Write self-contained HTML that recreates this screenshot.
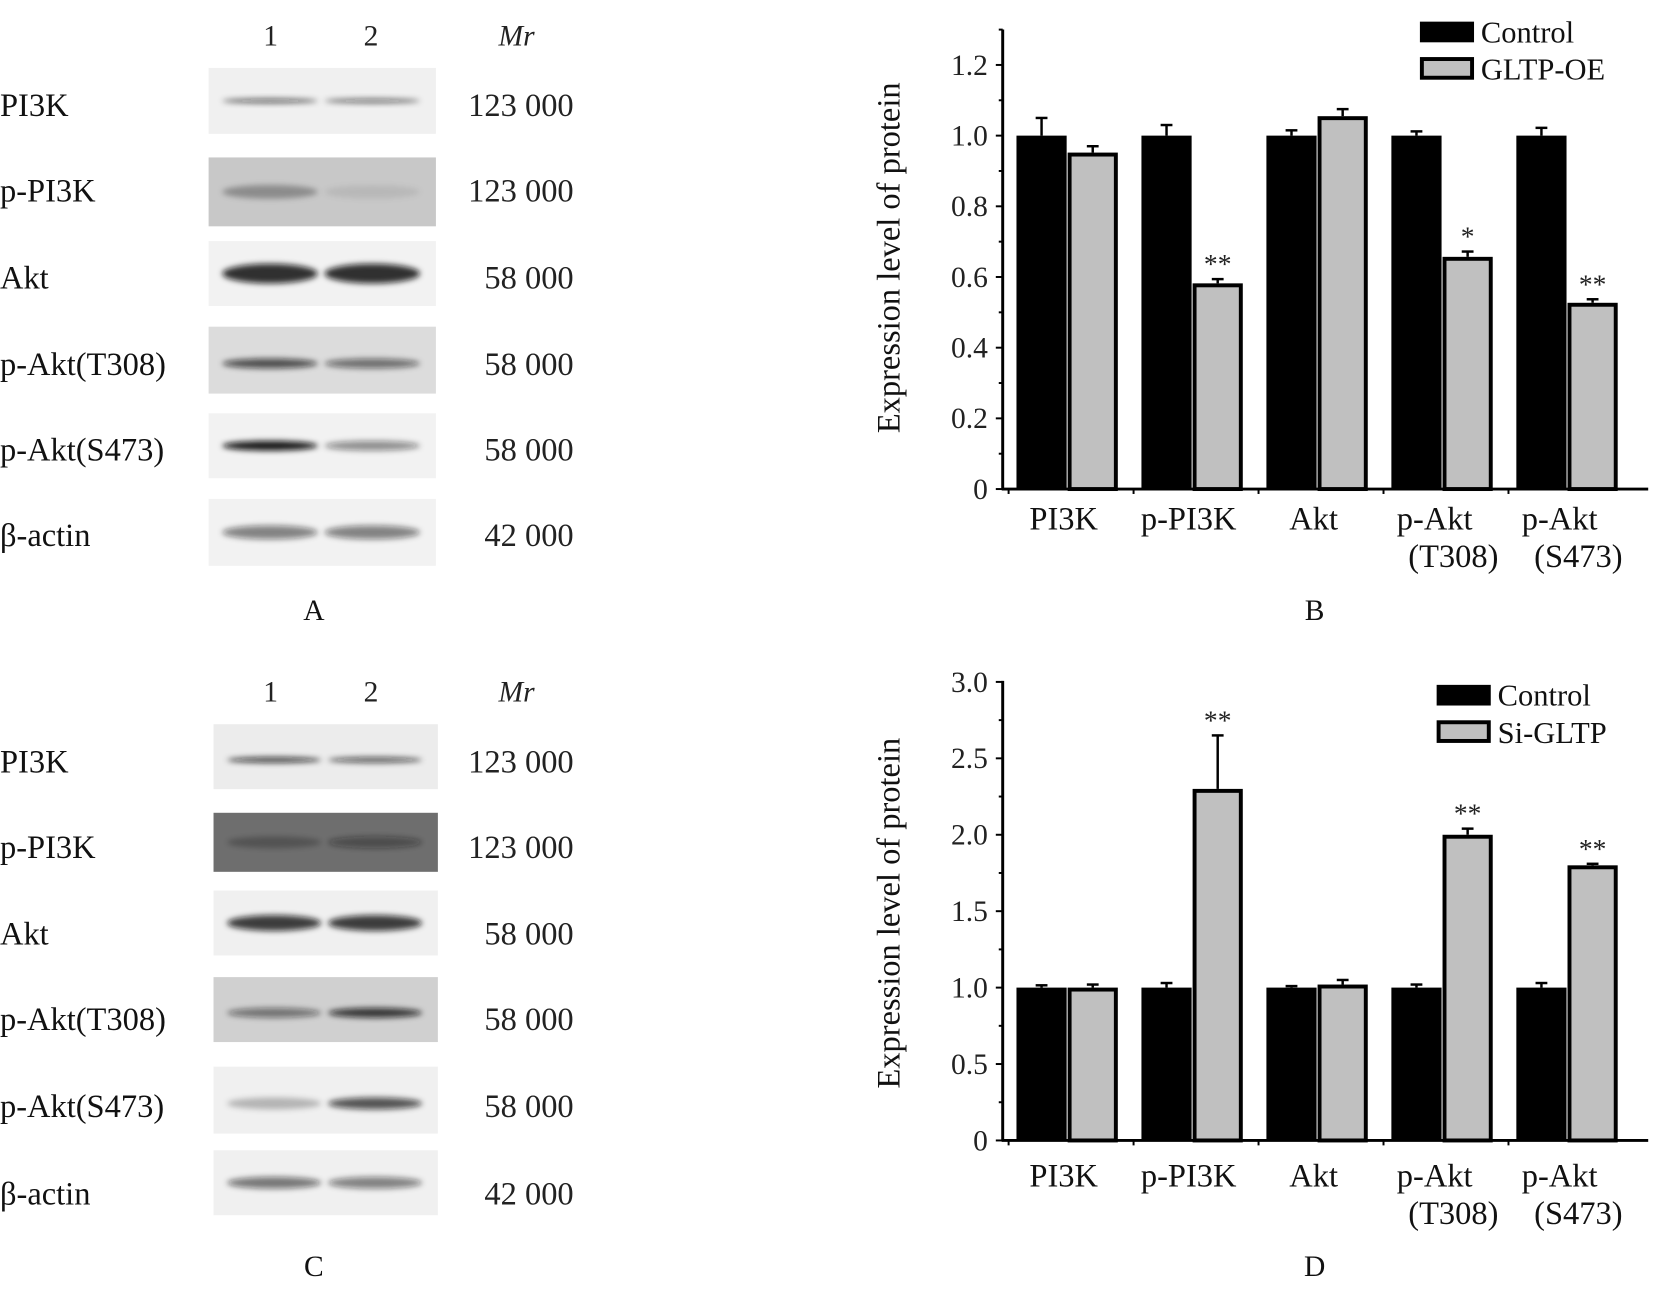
<!DOCTYPE html>
<html><head><meta charset="utf-8">
<style>
html,body{margin:0;padding:0;background:#fff;}
svg{display:block;font-family:"Liberation Serif","DejaVu Serif",serif;}
</style></head>
<body>
<svg id="fig" width="1678" height="1293" viewBox="0 0 1678 1293" xmlns="http://www.w3.org/2000/svg">
<defs>
<filter id="blur3" x="-20%" y="-100%" width="140%" height="300%"><feGaussianBlur stdDeviation="3"/></filter>
</defs>
<g id="root" transform="scale(0.984)"></g>
</svg>
<script>
// ---- Chart data ----
const categories = ["PI3K","p-PI3K","Akt","p-Akt","p-Akt"];
const categories2 = ["","","","(T308)","(S473)"];
const bControl = [1.0,1.0,1.0,1.0,1.0];
const bControlErr = [0.05,0.03,0.015,0.012,0.022];
const bOE = [0.952,0.582,1.055,0.657,0.527];
const bOEErr = [0.018,0.012,0.02,0.015,0.01];
const bStars = ["","**","","*","**"];
const bTicks = ["0","0.2","0.4","0.6","0.8","1.0","1.2"];
const dControl = [1.0,1.0,1.0,1.0,1.0];
const dControlErr = [0.015,0.03,0.01,0.02,0.03];
const dSi = [1.0,2.3,1.02,2.0,1.8];
const dSiErr = [0.02,0.35,0.03,0.04,0.01];
const dStars = ["","**","","**","**"];
const dTicks = ["0","0.5","1.0","1.5","2.0","2.5","3.0"];
const blotLabels = ["PI3K","p-PI3K","Akt","p-Akt(T308)","p-Akt(S473)","β-actin"];
const blotMW = ["123 000","123 000","58 000","58 000","58 000","42 000"];

const NS="http://www.w3.org/2000/svg";
const root=document.getElementById('root');
function mk(tag,attrs,parent,text){const e=document.createElementNS(NS,tag);for(const k in attrs)e.setAttribute(k,attrs[k]);if(text!==undefined)e.textContent=text;(parent||root).appendChild(e);return e;}

function chart(cfg){
  const g=mk('g',{});
  
  
  const ax=1019, x1=1675, y0=cfg.y0, yTop=cfg.yTop, vmax=cfg.vmax;
  const ys=v=>y0-(v/vmax)*(y0-cfg.yMaxPix);
  const gw=127, bw=51, start=1033;
  for(let i=0;i<categories.length;i++){
    const xc=start+i*gw;
    const yc=ys(cfg.ctrl[i]);
    const e1=mk('line',{x1:xc+bw/2,x2:xc+bw/2,y1:yc,y2:ys(cfg.ctrl[i]+cfg.ctrlErr[i]),stroke:'#000','stroke-width':2.5},g);
    
    
    const c1=mk('line',{x1:xc+bw/2-6,x2:xc+bw/2+6,y1:ys(cfg.ctrl[i]+cfg.ctrlErr[i]),y2:ys(cfg.ctrl[i]+cfg.ctrlErr[i]),stroke:'#000','stroke-width':2.5},g);
    
    
    const r1=mk('rect',{x:xc,y:yc,width:bw,height:y0-yc,fill:'#000'},g);
    
    
    const xg=xc+bw+1;
    const yg=ys(cfg.trt[i]);
    const yge=ys(cfg.trt[i]+cfg.trtErr[i]);
    const e2=mk('line',{x1:xg+bw/2,x2:xg+bw/2,y1:yg,y2:yge,stroke:'#000','stroke-width':2.5},g);
    
    
    const c2=mk('line',{x1:xg+bw/2-6,x2:xg+bw/2+6,y1:yge,y2:yge,stroke:'#000','stroke-width':2.5},g);
    
    
    const r2=mk('rect',{x:xg+2,y:yg+2,width:bw-4,height:y0-yg-2,fill:'#c0c0c0',stroke:'#000','stroke-width':4},g);
    
    
    if(cfg.stars[i]){
      const s=mk('text',{x:xg+bw/2,y:yge-6,'font-size':28,'text-anchor':'middle',fill:'#222'},g,cfg.stars[i]);
      
      
    }
    const l=mk('text',{x:xc+bw+(i>=3?-7:-3),y:y0+41+cfg.labOff,'font-size':33,'text-anchor':'middle',fill:'#111'},g,categories[i]);
    
    
    if(categories2[i]){
      const l2=mk('text',{x:xc+bw+12,y:y0+79+cfg.labOff,'font-size':33,'text-anchor':'middle',fill:'#111'},g,categories2[i]);
      
      
    }
    const tk=mk('line',{x1:xc-8,x2:xc-8,y1:y0,y2:y0+5,stroke:'#000','stroke-width':2},g);
    
    
  }
  const ya=mk('line',{x1:ax,x2:ax,y1:yTop,y2:y0+1,stroke:'#000','stroke-width':3},g);
  
  
  const xa=mk('line',{x1:ax-1,x2:x1,y1:y0,y2:y0,stroke:'#000','stroke-width':3},g);
  
  
  const step=vmax/(cfg.ticks.length-1);
  for(let i=0;i<cfg.ticks.length;i++){
    const y=ys(i*step);
    const t=mk('line',{x1:ax-7,x2:ax,y1:y,y2:y,stroke:'#000','stroke-width':2},g);
    
    
    const ym=ys((i+0.5)*step);
    if(ym>=yTop){
      const m=mk('line',{x1:ax-4,x2:ax,y1:ym,y2:ym,stroke:'#000','stroke-width':2},g);
      
      
    }
    const tl=mk('text',{x:ax-15,y:y+10,'font-size':30,'text-anchor':'end',fill:'#222'},g,cfg.ticks[i]);
    
    
  }
  const yt=mk('text',{x:0,y:0,'font-size':33,'text-anchor':'middle',fill:'#111',transform:`translate(914,${cfg.titleY}) rotate(-90)`},g,'Expression level of protein');
  
  
  const lg=mk('g',{},g);
  
  
  const lr1=mk('rect',{x:cfg.legX,y:cfg.legY,width:55,height:21,fill:'#000'},lg);
  
  
  const lt1=mk('text',{x:cfg.legX+62,y:cfg.legY+21,'font-size':31,fill:'#111'},lg,'Control');
  
  
  const lr2=mk('rect',{x:cfg.legX+2,y:cfg.legY+38,width:51,height:19,fill:'#c0c0c0',stroke:'#000','stroke-width':4},lg);
  
  
  const lt2=mk('text',{x:cfg.legX+62,y:cfg.legY+59,'font-size':31,fill:'#111'},lg,cfg.trtName);
  
  
  const pl=mk('text',{x:1336,y:cfg.panelY,'font-size':30,'text-anchor':'middle',fill:'#111'},g,cfg.panel);
  
  
}
chart({name:'chart-b',y0:497,yTop:30,vmax:1.2,yMaxPix:66,ctrl:bControl,ctrlErr:bControlErr,trt:bOE,trtErr:bOEErr,stars:bStars,ticks:bTicks,titleY:262,legX:1443,legY:22,trtName:'GLTP-OE',panel:'B',panelY:630,labOff:0});
chart({name:'chart-d',y0:1159,yTop:692,vmax:3.0,yMaxPix:693,ctrl:dControl,ctrlErr:dControlErr,trt:dSi,trtErr:dSiErr,stars:dStars,ticks:dTicks,titleY:928,legX:1460,legY:696,trtName:'Si-GLTP',panel:'D',panelY:1297,labOff:6});

// ---- Blots ----
const blotA={tops:[69,160,245,332,420,507],heights:[67,70,66,68,66,68],bx:212,bw:231,
  bg:['#f0f0f0','#c8c8c8','#f2f2f2','#dcdcdc','#f2f2f2','#f2f2f2'],
  l1:[0.6,0.3,0.85,0.7,0.95,0.5],l2:[0.55,0.08,0.85,0.55,0.45,0.5],bandY:[0.5,0.5,0.5,0.55,0.5,0.5],bandH:[5,14,20,10,10,14]};
const blotC={tops:[736,826,905,993,1084,1169],heights:[66,60,66,66,68,66],bx:217,bw:228,
  bg:['#ececec','#6e6e6e','#f0f0f0','#d0d0d0','#f0f0f0','#f0f0f0'],
  l1:[0.75,0.25,0.8,0.5,0.25,0.55],l2:[0.65,0.4,0.8,0.8,0.7,0.5],bandY:[0.55,0.5,0.5,0.55,0.55,0.5],bandH:[6,12,16,10,12,12]};
function blot(b,name,labelsY,laneY,panelY,panel,lane1,lane2){
  const g=mk('g',{});
  
  
  const n1=mk('text',{x:lane1,y:laneY,'font-size':30,'text-anchor':'middle',fill:'#222'},g,'1');
  
  
  const n2=mk('text',{x:lane2,y:laneY,'font-size':30,'text-anchor':'middle',fill:'#222'},g,'2');
  
  
  const mr=mk('text',{x:525,y:laneY,'font-size':30,'text-anchor':'middle','font-style':'italic',fill:'#222'},g,'Mr');
  
  
  for(let i=0;i<blotLabels.length;i++){
    const top=b.tops[i],h=b.heights[i];
    const r=mk('rect',{x:b.bx,y:top,width:b.bw,height:h,fill:b.bg[i]},g);
    
    
    const cy=top+h*b.bandY[i];
    const lanes=[[b.bx+b.bw*0.27,b.l1[i]],[b.bx+b.bw*0.72,b.l2[i]]];
    for(const [cx,a] of lanes){
      const e=mk('ellipse',{cx:cx,cy:cy,rx:b.bw*0.21,ry:b.bandH[i]/2,fill:'#111','fill-opacity':a,filter:'url(#blur3)'},g);
      
      
    }
    const lab=mk('text',{x:0,y:labelsY[i]+11,'font-size':33,fill:'#111'},g,blotLabels[i]);
    
    
    const mw=mk('text',{x:583,y:labelsY[i]+11,'font-size':33,'text-anchor':'end',fill:'#222'},g,blotMW[i]);
    
    
  }
  const pl=mk('text',{x:319,y:panelY,'font-size':30,'text-anchor':'middle',fill:'#111'},g,panel);
  
  
}
blot(blotA,'blot-a',[107,194,282,370,457,544],46,630,'A',275,377);
blot(blotC,'blot-c',[774,861,949,1036,1124,1213],713,1297,'C',275,377);
</script>
</body></html>
